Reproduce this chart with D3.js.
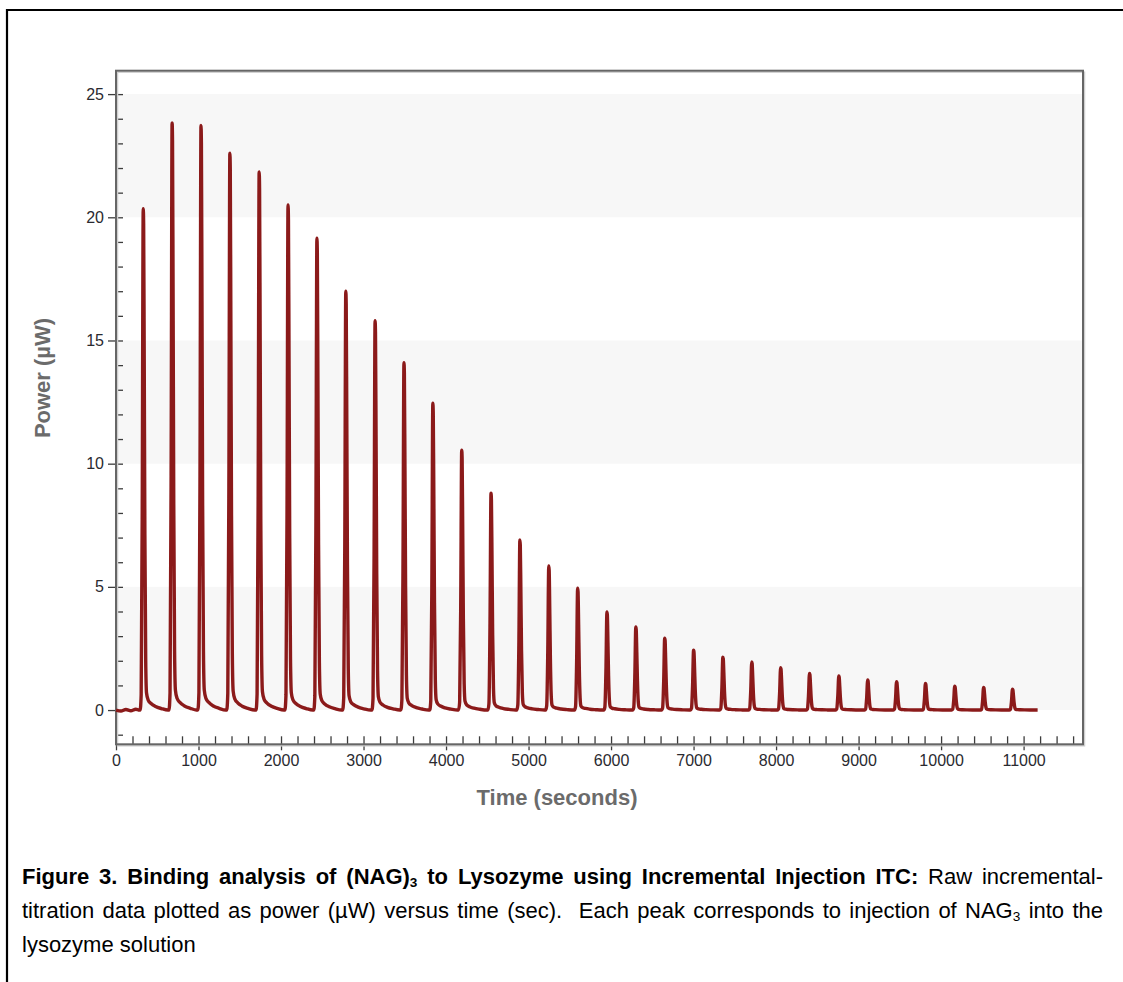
<!DOCTYPE html>
<html>
<head>
<meta charset="utf-8">
<script src="https://cdn.jsdelivr.net/npm/d3@7"></script>
<style>
body { margin: 0; background: #fff; }
#wrap { position: relative; width: 1123px; height: 982px; overflow: hidden; }
svg { display: block; font-family: "Liberation Sans", Arial, sans-serif; }
.axis text { font-size: 16px; fill: #2a2a30; }
.axis line { stroke: #3c3c3c; stroke-width: 1.3; }
.axis path { display: none; }
.caption { position: absolute; left: 22px; width: 1081px; font-family: "Liberation Sans", Arial, sans-serif;
           font-size: 22px; line-height: 34px; color: #000; }
.caption sub { font-size: 0.62em; vertical-align: -0.22em; line-height: 0; }
#cap1 { top: 860px; text-align: justify; text-align-last: justify; }
#cap2 { top: 928px; }
</style>
</head>
<body>
<div id="wrap">
<div class="caption" id="cap1"><b>Figure 3. Binding analysis of (NAG)<sub>3</sub> to Lysozyme using Incremental Injection ITC:</b> Raw incremental-<br>titration data plotted as power (µW) versus time (sec).&nbsp; Each peak corresponds to injection of NAG<sub>3</sub> into the</div>
<div class="caption" id="cap2">lysozyme solution</div>
</div>
<script>
//injection times (s) and peak heights (µW)
var injectionTimes = [330, 680, 1030, 1380, 1735, 2085, 2435, 2785, 3140, 3490, 3840,
                      4190, 4545, 4895, 5245, 5595, 5950, 6300, 6650, 7000, 7355,
                      7705, 8055, 8405, 8760, 9110, 9460, 9810, 10165, 10515, 10865];
var peakHeights = [20.35, 23.83, 23.73, 22.6, 21.84, 20.5, 19.15, 17.0, 15.8, 14.1, 12.45,
                   10.55, 8.8, 6.9, 5.85, 4.95, 3.98, 3.37, 2.92, 2.43, 2.15,
                   1.95, 1.72, 1.49, 1.38, 1.22, 1.15, 1.08, 0.97, 0.92, 0.85];

//shape of a single peak: offset from the top (s) and fraction of the peak height
var profileOffsets   = [-60, -38, -25, -12, 0, 5, 12, 20, 30, 40, 60, 95, 150, 220, 300];
var profileFractions = [0, 0, 0.03, 0.4, 1, 0.97, 0.7, 0.35, 0.1, 0.034, 0.02, 0.013, 0.007, 0.003, 0];

//baseline before the first injection, and end of the run
var baselineTimes  = [0, 60, 120, 180, 240, 280];
var baselineValues = [0.0, -0.04, 0.02, -0.03, 0.03, 0.0];
var endTime = 11170;

//tick labels and shaded bands
var xTickValues = [0, 1000, 2000, 3000, 4000, 5000, 6000, 7000, 8000, 9000, 10000, 11000];
var yTickValues = [0, 5, 10, 15, 20, 25];
var bands = [[0, 5], [10, 15], [20, 25]];

//Width and height
var w = 1123;
var h = 982;
var plotLeft = 116, plotRight = 1083, plotTop = 70.7, plotBottom = 744.3;

var svg = d3.select("#wrap")
            .insert("svg", ":first-child")
            .attr("width", w)
            .attr("height", h);

//scales
var xScale = d3.scaleLinear()
            .domain([0, 11720])
            .range([plotLeft, plotRight]);

var yScale = d3.scaleLinear()
           .domain([-1.39, 25.95])
           .range([plotBottom, plotTop]);

//outer frame of the figure
svg.append("path")
    .attr("d", "M7," + h + "V10H" + w)
    .attr("fill", "none")
    .attr("stroke", "#000")
    .attr("stroke-width", 2.2);

//shaded bands
svg.selectAll(".band")
    .data(bands)
    .enter().append("rect")
    .attr("class", "band")
    .attr("x", plotLeft)
    .attr("width", plotRight - plotLeft)
    .attr("y", function(d){ return yScale(d[1]); })
    .attr("height", function(d){ return yScale(d[0]) - yScale(d[1]); })
    .attr("fill", "#f7f7f7");

//minor ticks (inside)
svg.append("g")
    .attr("class", "axis")
    .attr("transform", "translate(" + plotLeft + ",0)")
    .call(d3.axisRight(yScale).tickValues(d3.range(-1, 26, 1)).tickSize(7).tickFormat(""));

svg.append("g")
    .attr("class", "axis")
    .attr("transform", "translate(0," + plotBottom + ")")
    .call(d3.axisTop(xScale).tickValues(d3.range(0, 11601, 200)).tickSize(8).tickFormat(""));

//major ticks with labels
svg.append("g")
    .attr("class", "axis")
    .attr("transform", "translate(" + plotLeft + ",0)")
    .call(d3.axisLeft(yScale).tickValues(yTickValues).tickSize(8).tickPadding(4).tickFormat(d3.format("d")));

svg.append("g")
    .attr("class", "axis")
    .attr("transform", "translate(0," + plotBottom + ")")
    .call(d3.axisBottom(xScale).tickValues(xTickValues).tickSize(6).tickPadding(4).tickFormat(d3.format("d")));

//plot frame
svg.append("rect")
    .attr("x", plotLeft + 1.5)
    .attr("y", plotTop + 1.5)
    .attr("width", plotRight - plotLeft)
    .attr("height", plotBottom - plotTop)
    .attr("fill", "none")
    .attr("stroke", "#d0d0d0")
    .attr("stroke-width", 1.5);

svg.append("rect")
    .attr("x", plotLeft)
    .attr("y", plotTop)
    .attr("width", plotRight - plotLeft)
    .attr("height", plotBottom - plotTop)
    .attr("fill", "none")
    .attr("stroke", "#666")
    .attr("stroke-width", 2);

//build the trace from the baseline and the peaks
var trace = [];
baselineTimes.forEach(function(t, i){ trace.push([t, baselineValues[i]]); });
injectionTimes.forEach(function(t, i){
    profileOffsets.forEach(function(o, j){
        trace.push([t + o, peakHeights[i] * profileFractions[j]]);
    });
});
trace.push([endTime, 0]);

var traceLine = d3.line()
                .x(function(d){ return xScale(d[0]); })
                .y(function(d){ return yScale(d[1]); })
                .curve(d3.curveMonotoneX);

svg.append("path")
    .datum(trace)
    .attr("fill", "none")
    .attr("stroke", "#8b1a1a")
    .attr("stroke-width", 3.4)
    .attr("stroke-linejoin", "round")
    .attr("d", traceLine);

//axis titles
svg.append("text")
    .attr("transform", "translate(50,378) rotate(-90)")
    .attr("text-anchor", "middle")
    .attr("font-size", 22)
    .attr("font-weight", "bold")
    .attr("fill", "#6b6b6b")
    .text("Power (µW)");

svg.append("text")
    .attr("x", 557)
    .attr("y", 805)
    .attr("text-anchor", "middle")
    .attr("font-size", 22)
    .attr("font-weight", "bold")
    .attr("fill", "#6b6b6b")
    .text("Time (seconds)");
</script>
</body>
</html>
